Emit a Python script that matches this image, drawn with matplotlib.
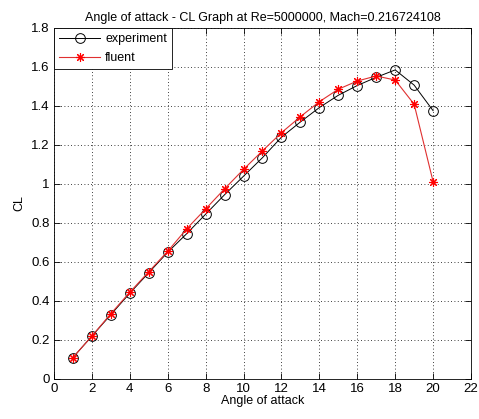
import matplotlib
matplotlib.use("Agg")
import matplotlib.pyplot as plt

plt.rcParams['font.family'] = ['Liberation Sans', 'DejaVu Sans']

angle = [1, 2, 3, 4, 5, 6, 7, 8, 9, 10, 11, 12, 13, 14, 15, 16, 17, 18, 19, 20]
cl_experiment = [0.11, 0.22, 0.33, 0.44, 0.545, 0.65, 0.745, 0.845, 0.945, 1.04,
                 1.135, 1.24, 1.318, 1.392, 1.455, 1.505, 1.547, 1.585, 1.507, 1.376]
cl_fluent = [0.11, 0.22, 0.335, 0.445, 0.55, 0.655, 0.77, 0.872, 0.975, 1.075,
             1.17, 1.263, 1.345, 1.422, 1.486, 1.528, 1.554, 1.533, 1.409, 1.012]

fig = plt.figure(figsize=(4.79, 4.19), dpi=100)
ax = fig.add_axes([0.1127, 0.0955, 0.8706, 0.8377])

ax.plot(angle, cl_experiment, color='black', linewidth=0.7, marker='o',
        markersize=7, markerfacecolor='none', markeredgecolor='black',
        markeredgewidth=0.7, label='experiment')
ax.plot(angle, cl_fluent, color='#e03030', linewidth=0.8, marker=(8, 2, 0),
        markersize=6.5, markeredgecolor='red', markeredgewidth=0.8,
        label='fluent')

ax.set_xlim(0, 22)
ax.set_ylim(0, 1.8)
ax.set_xticks(range(0, 23, 2))
ax.set_yticks([0, 0.2, 0.4, 0.6, 0.8, 1, 1.2, 1.4, 1.6, 1.8])
ax.set_yticklabels(['0', '0.2', '0.4', '0.6', '0.8', '1', '1.2', '1.4', '1.6', '1.8'])
ax.tick_params(direction='in', top=True, right=True, labelsize=9.5, length=4,
               width=0.6, pad=3)
ax.grid(True, linestyle=(0, (1, 3)), color='black', linewidth=0.6)
for s in ax.spines.values():
    s.set_linewidth(0.6)

ax.set_title('Angle of attack - CL Graph at Re=5000000, Mach=0.216724108',
             fontsize=9, pad=5)
ax.set_xlabel('Angle of attack', fontsize=9, labelpad=0)
ax.set_ylabel('CL', fontsize=9, labelpad=4)

leg = ax.legend(loc='upper left', fontsize=9, fancybox=False, framealpha=1,
                edgecolor='black', borderaxespad=0, handlelength=3.3,
                borderpad=0.4, labelspacing=0.6, handletextpad=0.4)
leg.get_frame().set_linewidth(0.6)

fig.savefig('out.png', dpi=100)
